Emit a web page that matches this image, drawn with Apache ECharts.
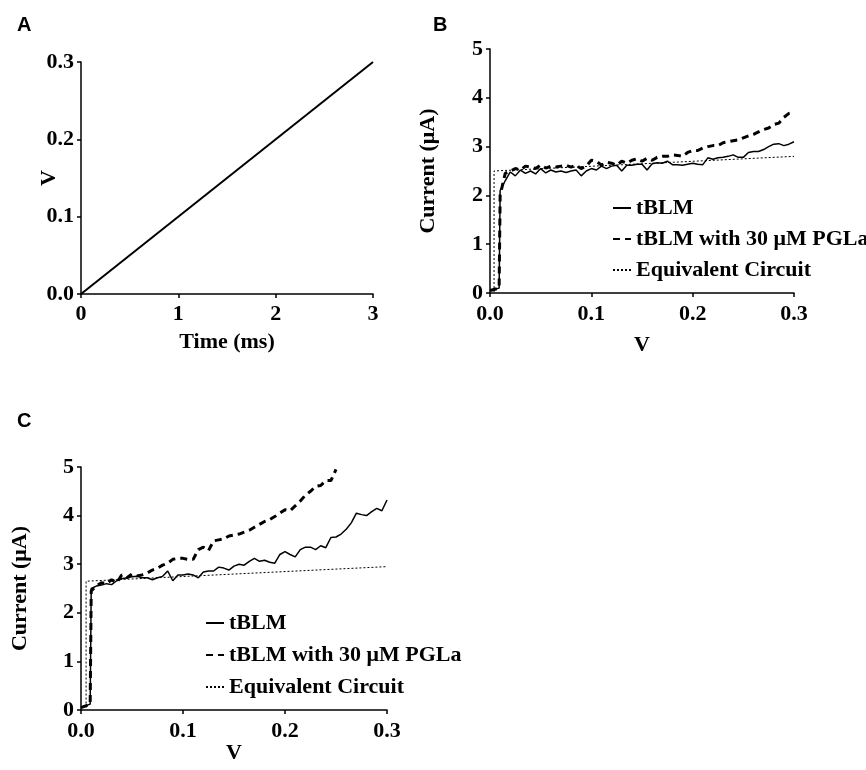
<!DOCTYPE html>
<html>
<head>
<meta charset="utf-8">
<script src="https://cdn.jsdelivr.net/npm/echarts@6/dist/echarts.min.js"></script>
<style>html,body{margin:0;padding:0;background:#fff}#c{width:866px;height:770px}</style>
</head>
<body>
<div id="c"></div>
<script>
// Panel A: voltage ramp
var timeA = [0, 3];
var voltA = [0, 0.3];

// Voltage sweep (V) shared by panels B and C
var vSweep = [0, 0.009, 0.01, 0.015, 0.02, 0.025, 0.03, 0.035, 0.04, 0.045, 0.05, 0.055, 0.06, 0.065, 0.07, 0.075, 0.08, 0.085, 0.09, 0.095, 0.1, 0.105, 0.11, 0.115, 0.12, 0.125, 0.13, 0.135, 0.14, 0.145, 0.15, 0.155, 0.16, 0.165, 0.17, 0.175, 0.18, 0.185, 0.19, 0.195, 0.2, 0.205, 0.21, 0.215, 0.22, 0.225, 0.23, 0.235, 0.24, 0.245, 0.25, 0.255, 0.26, 0.265, 0.27, 0.275, 0.28, 0.285, 0.29, 0.295, 0.3];

// Panel B currents (µA)
var bTBLM = [0.05, 0.1, 2.1, 2.3, 2.48, 2.4, 2.52, 2.45, 2.5, 2.44, 2.55, 2.46, 2.52, 2.48, 2.5, 2.47, 2.5, 2.52, 2.4, 2.5, 2.55, 2.52, 2.6, 2.55, 2.6, 2.62, 2.5, 2.62, 2.62, 2.64, 2.64, 2.52, 2.65, 2.67, 2.66, 2.7, 2.63, 2.63, 2.62, 2.64, 2.66, 2.64, 2.63, 2.77, 2.74, 2.77, 2.78, 2.8, 2.83, 2.78, 2.78, 2.88, 2.9, 2.9, 2.94, 3.0, 3.05, 3.06, 3.02, 3.05, 3.1];
var bPGLa = [0.05, 0.1, 2.0, 2.45, 2.5, 2.55, 2.52, 2.6, 2.58, 2.55, 2.62, 2.56, 2.6, 2.58, 2.6, 2.62, 2.58, 2.62, 2.55, 2.6, 2.72, 2.7, 2.62, 2.68, 2.66, 2.62, 2.7, 2.66, 2.72, 2.75, 2.7, 2.76, 2.72, 2.78, 2.8, 2.8, 2.83, 2.82, 2.8, 2.88, 2.92, 2.92, 2.97, 3.0, 3.02, 3.02, 3.08, 3.1, 3.12, 3.14, 3.18, 3.22, 3.25, 3.3, 3.35, 3.38, 3.45, 3.48, 3.6, 3.68, 3.7];
var bEqV = [0.004, 0.004, 0.3];
var bEqI = [0.02, 2.5, 2.8];

// Panel C currents (µA)
var cTBLM = [0.05, 0.12, 2.5, 2.55, 2.57, 2.6, 2.58, 2.66, 2.7, 2.72, 2.74, 2.75, 2.72, 2.72, 2.68, 2.72, 2.75, 2.86, 2.66, 2.78, 2.78, 2.8, 2.78, 2.72, 2.84, 2.86, 2.86, 2.94, 2.92, 2.88, 2.96, 3.0, 2.98, 3.06, 3.12, 3.06, 3.08, 3.04, 3.02, 3.2, 3.26, 3.2, 3.15, 3.3, 3.35, 3.35, 3.3, 3.38, 3.34, 3.55, 3.56, 3.62, 3.72, 3.85, 4.05, 4.02, 4.0, 4.08, 4.15, 4.1, 4.32];
var cPGLa = [0.05, 0.12, 2.45, 2.55, 2.62, 2.6, 2.68, 2.62, 2.78, 2.72, 2.8, 2.76, 2.78, 2.82, 2.88, 2.92, 2.98, 3.02, 3.1, 3.12, 3.12, 3.1, 3.1, 3.3, 3.35, 3.28, 3.48, 3.5, 3.52, 3.58, 3.6, 3.62, 3.66, 3.7, 3.76, 3.82, 3.88, 3.92, 3.98, 4.05, 4.12, 4.1, 4.2, 4.3, 4.42, 4.5, 4.6, 4.62, 4.72, 4.72, 4.95];
var cEqV = [0.005, 0.005, 0.3];
var cEqI = [0.05, 2.65, 2.95];

var names = ['tBLM', 'tBLM with 30 \u03bcM PGLa', 'Equivalent Circuit'];

function zip(xs, ys) {
  var out = [];
  for (var i = 0; i < ys.length; i++) out.push([xs[i], ys[i]]);
  return out;
}

var SERIF = '"Liberation Serif", "Times New Roman", serif';
var txt = { fontFamily: SERIF, fontWeight: 'bold', fontSize: 22, color: '#000' };

function axis(gi, opts) {
  var base = {
    gridIndex: gi,
    type: 'value',
    axisLine: { show: true, onZero: false, lineStyle: { color: '#000', width: 1.5 } },
    axisTick: { show: true, length: 4, lineStyle: { color: '#000', width: 1.5 } },
    splitLine: { show: false },
    nameLocation: 'middle',
    nameMoveOverlap: false,
    nameTextStyle: txt,
    axisLabel: Object.assign({}, txt)
  };
  for (var k in opts) {
    if (k === 'axisLabel') base.axisLabel = Object.assign(base.axisLabel, opts[k]);
    else base[k] = opts[k];
  }
  return base;
}

var styles = [
  { type: 'solid', width: 1.5 },
  { type: [7, 5], width: 3 },
  { type: [2, 2], width: 1 }
];

function lineSeries(name, xi, yi, data, st) {
  return {
    name: name, type: 'line', xAxisIndex: xi, yAxisIndex: yi, data: data,
    symbol: 'none', animation: false, silent: true,
    lineStyle: { color: '#000', type: st.type, width: st.width },
    itemStyle: { color: '#000' }
  };
}

var legendText = Object.assign({ lineHeight: 22 }, txt);
var letterStyle = { fontFamily: '"Liberation Sans", Arial, sans-serif', fontWeight: 'bold', fontSize: 20, color: '#000' };

var chart = echarts.init(document.getElementById('c'), null, { renderer: 'canvas' });
chart.setOption({
  backgroundColor: '#fff',
  animation: false,
  title: [
    { text: 'A', left: 12, top: 10, textStyle: letterStyle },
    { text: 'B', left: 428, top: 10, textStyle: letterStyle },
    { text: 'C', left: 12, top: 406, textStyle: letterStyle }
  ],
  grid: [
    { left: 81, top: 62, width: 292, height: 232 },
    { left: 490, top: 49, width: 304, height: 244 },
    { left: 81, top: 467, width: 306, height: 243 }
  ],
  xAxis: [
    axis(0, { min: 0, max: 3, interval: 1, name: 'Time (ms)', nameGap: 37, axisLabel: { margin: 9 } }),
    axis(1, { min: 0, max: 0.3, interval: 0.1, name: 'V', nameGap: 41, axisLabel: { margin: 10, formatter: function (v) { return v.toFixed(1); } } }),
    axis(2, { min: 0, max: 0.3, interval: 0.1, name: 'V', nameGap: 32, axisLabel: { margin: 10, formatter: function (v) { return v.toFixed(1); } } })
  ],
  yAxis: [
    axis(0, { min: 0, max: 0.3, interval: 0.1, name: 'V', nameGap: 21, axisLabel: { margin: 7, formatter: function (v) { return v.toFixed(1); } } }),
    axis(1, { min: 0, max: 5, interval: 1, name: 'Current (\u03bcA)', nameGap: 51, axisLabel: { margin: 7 } }),
    axis(2, { min: 0, max: 5, interval: 1, name: 'Current (\u03bcA)', nameGap: 50, axisLabel: { margin: 7 } })
  ],
  legend: [
    {
      orient: 'vertical', left: 607, top: 192, itemWidth: 18, itemHeight: 12, itemGap: 9,
      itemStyle: { opacity: 0 },
      data: names.slice(), textStyle: legendText, selectedMode: false
    },
    {
      orient: 'vertical', left: 200, top: 607, itemWidth: 18, itemHeight: 12, itemGap: 10,
      itemStyle: { opacity: 0 },
      data: names.slice(), textStyle: legendText, selectedMode: false
    }
  ],
  series: [
    lineSeries('ramp', 0, 0, zip(timeA, voltA), { type: 'solid', width: 2 }),
    lineSeries(names[0], 1, 1, zip(vSweep, bTBLM), styles[0]),
    lineSeries(names[1], 1, 1, zip(vSweep, bPGLa), styles[1]),
    lineSeries(names[2], 1, 1, zip(bEqV, bEqI), styles[2]),
    lineSeries(names[0], 2, 2, zip(vSweep, cTBLM), styles[0]),
    lineSeries(names[1], 2, 2, zip(vSweep, cPGLa), styles[1]),
    lineSeries(names[2], 2, 2, zip(cEqV, cEqI), styles[2])
  ]
});
</script>
</body>
</html>
